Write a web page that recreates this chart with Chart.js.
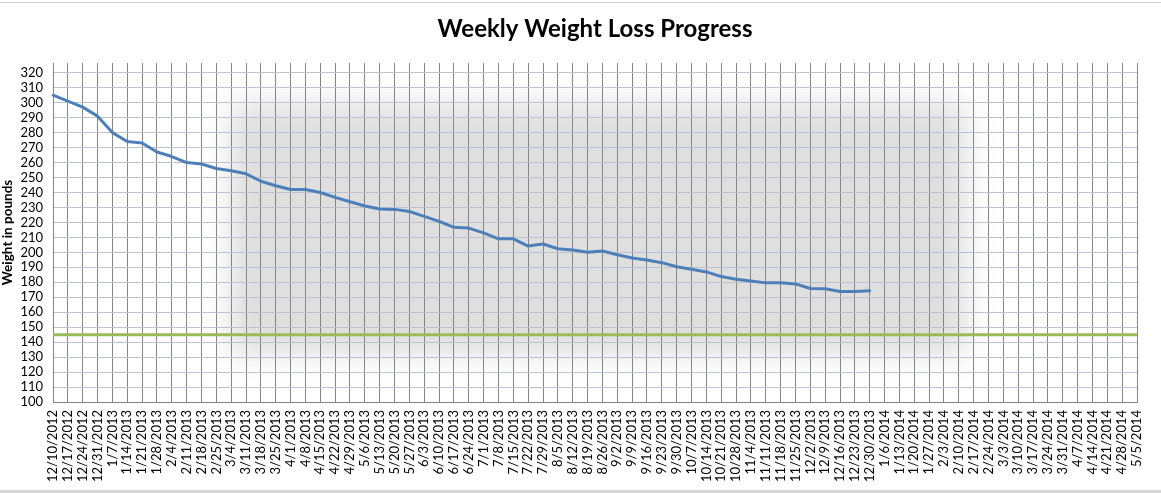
<!DOCTYPE html>
<html>
<head>
<meta charset="utf-8">
<script src="https://cdn.jsdelivr.net/npm/chart.js@4"></script>
<style>
  html, body { margin: 0; padding: 0; background: #ffffff; }
  #wrap { width: 1161px; height: 493px; position: relative; }
</style>
</head>
<body>
<div id="wrap"><canvas id="c" width="1161" height="493"></canvas></div>
<script>
const chartTitle = 'Weekly Weight Loss Progress';
const yAxisTitle = 'Weight in pounds';

const weekLabels = [
  '12/10/2012','12/17/2012','12/24/2012','12/31/2012',
  '1/7/2013','1/14/2013','1/21/2013','1/28/2013',
  '2/4/2013','2/11/2013','2/18/2013','2/25/2013',
  '3/4/2013','3/11/2013','3/18/2013','3/25/2013',
  '4/1/2013','4/8/2013','4/15/2013','4/22/2013','4/29/2013',
  '5/6/2013','5/13/2013','5/20/2013','5/27/2013',
  '6/3/2013','6/10/2013','6/17/2013','6/24/2013',
  '7/1/2013','7/8/2013','7/15/2013','7/22/2013','7/29/2013',
  '8/5/2013','8/12/2013','8/19/2013','8/26/2013',
  '9/2/2013','9/9/2013','9/16/2013','9/23/2013','9/30/2013',
  '10/7/2013','10/14/2013','10/21/2013','10/28/2013',
  '11/4/2013','11/11/2013','11/18/2013','11/25/2013',
  '12/2/2013','12/9/2013','12/16/2013','12/23/2013','12/30/2013',
  '1/6/2014','1/13/2014','1/20/2014','1/27/2014',
  '2/3/2014','2/10/2014','2/17/2014','2/24/2014',
  '3/3/2014','3/10/2014','3/17/2014','3/24/2014','3/31/2014',
  '4/7/2014','4/14/2014','4/21/2014','4/28/2014',
  '5/5/2014'
];

const weeklyWeight = [
  305, 301, 297, 291, 280, 274, 273, 267, 264, 260,
  259, 256, 254.5, 252.5, 247.5, 244.5, 242, 242, 240, 236.7,
  233.8, 231, 229, 228.7, 227.3, 224, 220.7, 216.7, 216.2, 213,
  209, 209, 204.2, 205.6, 202.4, 201.6, 200, 200.9, 198.4, 196.2,
  194.9, 193.1, 190.4, 188.7, 186.9, 183.8, 182, 180.9, 179.6, 179.6,
  178.9, 175.8, 175.6, 173.8, 173.8, 174.4
];

const goalWeight = [
  145,145,145,145,145,145,145,145,145,145,
  145,145,145,145,145,145,145,145,145,145,
  145,145,145,145,145,145,145,145,145,145,
  145,145,145,145,145,145,145,145,145,145,
  145,145,145,145,145,145,145,145,145,145,
  145,145,145,145,145,145,145,145,145,145,
  145,145,145,145,145,145,145,145,145,145,
  145,145,145,145
];

const yTickValues = [100,110,120,130,140,150,160,170,180,190,200,210,220,230,240,250,260,270,280,290,300,310,320];

const backdrop = {
  id: 'backdrop',
  beforeDraw(chart) {
    const ctx = chart.ctx, a = chart.chartArea;
    ctx.save();
    ctx.fillStyle = '#ffffff';
    ctx.fillRect(0, 0, chart.width, chart.height);
    const w = a.right - a.left, h = a.bottom - a.top;
    ctx.filter = 'blur(14px)';
    ctx.fillStyle = '#dfdfdf';
    ctx.fillRect(a.left + w * 0.163, a.top + h * 0.12, w * 0.68, h * 0.74);
    ctx.filter = 'none';
    ctx.fillStyle = '#cfcfcf';
    ctx.fillRect(0, 2, chart.width, 1);
    ctx.fillStyle = '#d6d6d6';
    ctx.fillRect(0, 490, chart.width, 3);
    ctx.restore();
  },
  afterDraw(chart) {
    const ctx = chart.ctx, a = chart.chartArea;
    ctx.save();
    ctx.fillStyle = '#000000';
    ctx.font = 'bold 24px Lato, "Liberation Sans", sans-serif';
    ctx.textAlign = 'center';
    ctx.textBaseline = 'alphabetic';
    ctx.fillText(chartTitle, (a.left + a.right) / 2, 37);
    ctx.restore();
  }
};

new Chart(document.getElementById('c'), {
  type: 'line',
  data: {
    labels: weekLabels,
    datasets: [
      {
        label: 'Weight',
        data: weeklyWeight,
        borderColor: '#4f7fb8',
        borderWidth: 3,
        pointRadius: 0,
        tension: 0,
        borderJoinStyle: 'round',
        borderCapStyle: 'round',
        order: 1
      },
      {
        label: 'Goal',
        data: goalWeight,
        borderColor: '#9bbb59',
        borderWidth: 3,
        pointRadius: 0,
        tension: 0,
        order: 2
      }
    ]
  },
  options: {
    responsive: false,
    animation: false,
    layout: { padding: { top: 63, left: 0, right: 24, bottom: 0 } },
    plugins: {
      legend: { display: false },
      title: { display: false },
      tooltip: { enabled: false }
    },
    scales: {
      x: {
        type: 'category',
        offset: false,
        grid: { color: '#858585', lineWidth: 1, drawTicks: false },
        border: { color: '#858585', width: 1 },
        ticks: {
          autoSkip: false,
          minRotation: 90,
          maxRotation: 90,
          padding: 8,
          color: '#000000',
          font: { family: 'Lato, "Liberation Sans", sans-serif', size: 13 }
        },
        afterFit(scale) { scale.height = 91; }
      },
      y: {
        type: 'linear',
        min: 100,
        max: 326.5,
        afterBuildTicks(scale) { scale.ticks = yTickValues.map(v => ({ value: v })); },
        grid: { color: '#bcc3cf', lineWidth: 1, drawTicks: false },
        border: { color: '#858585', width: 1 },
        ticks: {
          autoSkip: false,
          padding: 10,
          color: '#000000',
          font: { family: 'Lato, "Liberation Sans", sans-serif', size: 13 }
        },
        title: {
          display: true,
          text: yAxisTitle,
          color: '#000000',
          padding: { top: 0, bottom: 0 },
          font: { family: 'Lato, "Liberation Sans", sans-serif', size: 13.5, weight: 'bold' }
        },
        afterFit(scale) { scale.width = 53; }
      }
    }
  },
  plugins: [backdrop]
});
</script>
</body>
</html>
